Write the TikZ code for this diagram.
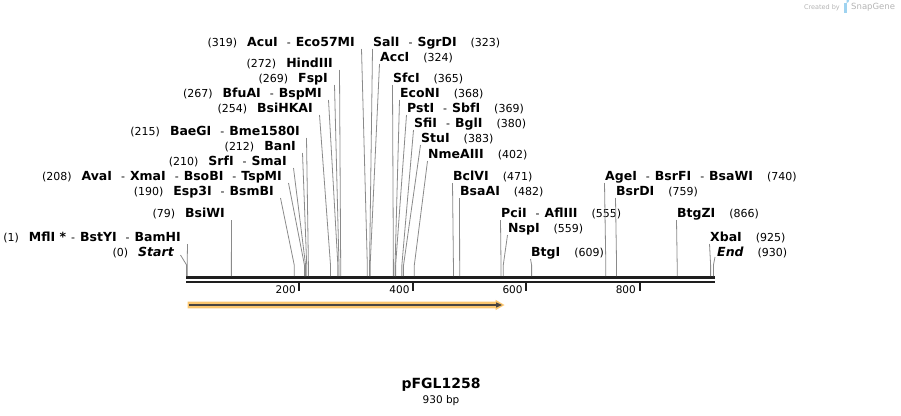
\documentclass[tikz,border=0pt]{standalone}
\usepackage{fontspec}
\setmainfont{DejaVu Sans}
\definecolor{cutgray}{HTML}{8A8A8A}
\definecolor{rulerblack}{HTML}{1E1E1E}
\definecolor{featorange}{HTML}{FBC66E}
\definecolor{featdark}{HTML}{4A4540}
\definecolor{wmgray}{HTML}{B4B4B4}
\definecolor{wmblue}{HTML}{9FD3F0}
\newcommand\nm[1]{{\fontsize{12.5}{14}\selectfont\bfseries #1}}
\newcommand\sepr{\hspace{9pt}-\hspace{5pt}}
\newcommand\gapl{\hspace{10pt}}
\newcommand\gapr{\hspace{14pt}}
\tikzset{
  lbl/.style={inner sep=0pt, text height=10.5pt, text depth=2pt, font=\fontsize{11}{13}\selectfont},
  lft/.style={lbl, anchor=east},
  rgt/.style={lbl, anchor=west},
  cutline/.style={draw=cutgray, line width=0.8pt},
  rulerline/.style={draw=rulerblack, line width=2.4pt},
  tickmark/.style={draw=rulerblack, line width=2pt},
  ticklbl/.style={inner sep=0pt, anchor=east, font=\fontsize{10.5}{12}\selectfont},
}
\begin{document}
\begin{tikzpicture}[x=1pt,y=-1pt]
\useasboundingbox (0,0) rectangle (901,415);
% site coordinates on the ruler
\foreach \n in {0,1,79,190,208,210,212,215,254,267,269,272,319,323,324,365,368,369,380,383,402,471,482,555,559,609,740,759,866,925,930}{
  \coordinate (s\n) at ({186.6+\n*0.5665},276);
  \coordinate (b\n) at ({186.6+\n*0.5665},265);
}
% ruler
\coordinate (rl) at (186,277.5);
\coordinate (rr) at (714.5,277.5);
\coordinate (rl2) at (186,282);
\coordinate (rr2) at (714.5,282);
\draw[rulerline] (rl) -- (rr);
\draw[rulerline] (rl2) -- (rr2);
\foreach \t/\x in {200/299.4,400/413.2,600/526.3,800/639.5}{
  \coordinate (t\t) at (\x,283);
  \draw[tickmark] (t\t) -- ++(0,7.5);
  \node[ticklbl] (tl\t) at (\x-3.5,289.5) {\t};
}
% feature arrow
\fill[featorange] (187.5,301.6) -- (495.5,301.6) -- (495.5,299.8) -- (504.5,305) -- (495.5,310.2) -- (495.5,308.4) -- (187.5,308.4) -- cycle;
\coordinate (fa) at (189,305);
\coordinate (fb) at (497,305);
\draw[featdark, line width=1.8pt] (fa) -- (fb);
\fill[featdark] (496,302.3) -- (502,305) -- (496,307.7) -- cycle;
% left-side labels
\node[lft] (l319) at (355,42) {(319)\gapl\nm{AcuI}\sepr\nm{Eco57MI}};
\node[lft] (l272) at (333,63) {(272)\gapl\nm{HindIII}};
\node[lft] (l269) at (328,78) {(269)\gapl\nm{FspI}};
\node[lft] (l267) at (322,93) {(267)\gapl\nm{BfuAI}\sepr\nm{BspMI}};
\node[lft] (l254) at (313,108) {(254)\gapl\nm{BsiHKAI}};
\node[lft] (l215) at (300,131) {(215)\gapl\nm{BaeGI}\sepr\nm{Bme1580I}};
\node[lft] (l212) at (296,146) {(212)\gapl\nm{BanI}};
\node[lft] (l210) at (287,161) {(210)\gapl\nm{SrfI}\sepr\nm{SmaI}};
\node[lft] (l208) at (282,176) {(208)\gapl\nm{AvaI}\sepr\nm{XmaI}\sepr\nm{BsoBI}\sepr\nm{TspMI}};
\node[lft] (l190) at (274,191) {(190)\gapl\nm{Esp3I}\sepr\nm{BsmBI}};
\node[lft] (l79) at (225,213) {(79)\gapl\nm{BsiWI}};
\node[lft] (l1) at (181,237) {(1)\gapl\nm{MflI *}\hspace{5pt}-\hspace{5pt}\nm{BstYI}\sepr\nm{BamHI}};
\node[lft] (l0) at (174,252) {(0)\gapl\nm{\itshape Start}};
% right-side labels
\node[rgt] (r323) at (373,42) {\nm{SalI}\sepr\nm{SgrDI}\gapr(323)};
\node[rgt] (r324) at (380,57) {\nm{AccI}\gapr(324)};
\node[rgt] (r365) at (393,78) {\nm{SfcI}\gapr(365)};
\node[rgt] (r368) at (400,93) {\nm{EcoNI}\gapr(368)};
\node[rgt] (r369) at (407,108) {\nm{PstI}\sepr\nm{SbfI}\gapr(369)};
\node[rgt] (r380) at (414,123) {\nm{SfiI}\sepr\nm{BglI}\gapr(380)};
\node[rgt] (r383) at (421,138) {\nm{StuI}\gapr(383)};
\node[rgt] (r402) at (428,154) {\nm{NmeAIII}\gapr(402)};
\node[rgt] (r471) at (453,176) {\nm{BclVI}\gapr(471)};
\node[rgt] (r482) at (460,191) {\nm{BsaAI}\gapr(482)};
\node[rgt] (r555) at (501,213) {\nm{PciI}\sepr\nm{AflIII}\gapr(555)};
\node[rgt] (r559) at (508,228) {\nm{NspI}\gapr(559)};
\node[rgt] (r609) at (531,252) {\nm{BtgI}\gapr(609)};
\node[rgt] (r740) at (605,176) {\nm{AgeI}\sepr\nm{BsrFI}\sepr\nm{BsaWI}\gapr(740)};
\node[rgt] (r759) at (616,191) {\nm{BsrDI}\gapr(759)};
\node[rgt] (r866) at (677,213) {\nm{BtgZI}\gapr(866)};
\node[rgt] (r925) at (710,237) {\nm{XbaI}\gapr(925)};
\node[rgt] (r930) at (717,252) {\nm{\itshape End}\gapr(930)};
% connectors, left-side labels
\foreach \n in {319,272,269,267,254,215,212,210,208,190,79,1}{
  \draw[cutline] ([shift={(6.5,7)}]l\n.east) -- (b\n) -- (s\n);
}
\draw[cutline] ([shift={(6.5,3)}]l0.east) -- (b0) -- (s0);
% connectors, right-side labels
\foreach \n in {323,324,365,368,369,380,383,402,471,482,555,559,609,740,759,866,925}{
  \draw[cutline] ([shift={(-0.5,7)}]r\n.west) -- (b\n) -- (s\n);
}
\draw[cutline] ([shift={(-2,5)}]r930.west) -- (b930) -- (s930);
% title
\node[inner sep=0pt, font=\fontsize{14}{16}\selectfont\bfseries] (title) at (441,384.5) {pFGL1258};
\node[inner sep=0pt, font=\fontsize{10.5}{12}\selectfont] (len) at (441,400.5) {930 bp};
% watermark
\node[inner sep=0pt, anchor=east, text=wmgray, font=\fontsize{6.5}{7}\selectfont] (wm1) at (840,7.5) {Created by};
\fill[wmblue] (843.5,3) rectangle (846.5,12.5);
\fill[wmblue] (846.5,3) arc[start angle=90, end angle=-90, radius=2.6];
\node[inner sep=0pt, anchor=west, text=wmgray, font=\fontsize{8.5}{9}\selectfont] (wm2) at (851,7.5) {SnapGene};
\end{tikzpicture}
\end{document}
